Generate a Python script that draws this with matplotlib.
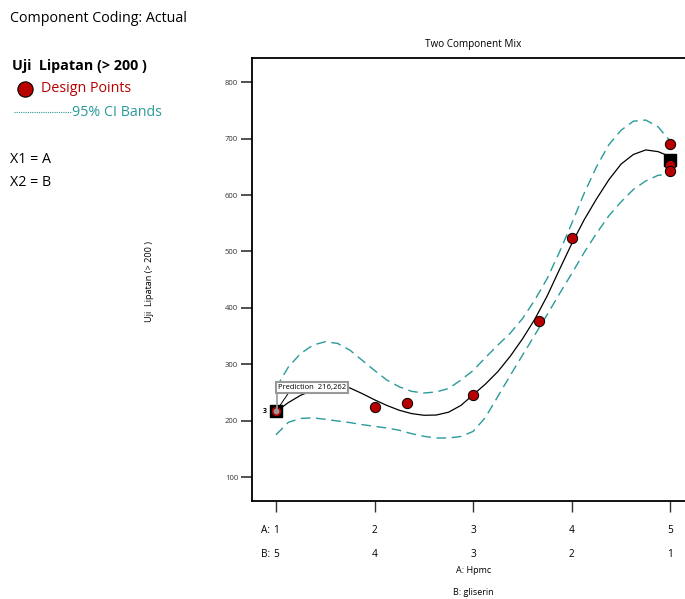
import numpy as np
import matplotlib.pyplot as plt
from matplotlib.transforms import blended_transform_factory

plt.rcParams['font.family'] = ['Open Sans', 'DejaVu Sans']

# design points (A: Hpmc)
pts_a = [1, 2, 2.33, 3, 3.67, 4, 5, 5, 5]
pts_y = [216.7, 223.8, 230.9, 245.6, 377, 524, 691, 653, 643]
# mean of replicates (black squares)
sq_a = [1, 5]
sq_y = [216.3, 662]

# fitted line and 95% CI, every 0.125 of A
grid_a = [1.0, 1.125, 1.25, 1.375, 1.5, 1.625, 1.75, 1.875, 2.0, 2.125, 2.25, 2.375, 2.5,
          2.625, 2.75, 2.875, 3.0, 3.125, 3.25, 3.375, 3.5, 3.625, 3.75, 3.875, 4.0,
          4.125, 4.25, 4.375, 4.5, 4.625, 4.75, 4.875, 5.0]
fit = [216, 232, 245, 254, 259, 261, 258, 248, 237, 227, 218.5, 212.6, 209.6,
       210, 215, 227, 246, 265, 287, 314, 345, 380, 421, 468, 514,
       556, 593, 627, 655, 672, 680, 677, 668]
upper = [258, 295, 319, 334, 340, 337, 325, 307, 289, 272, 260, 252, 249,
         251, 257, 272, 289, 312, 334, 355, 381, 414, 452, 499, 550,
         603, 650, 689, 715, 731, 733, 721, 695]
lower = [175, 197, 204, 205, 202.5, 199.5, 196.6, 193, 190, 187, 183, 177, 172.3,
         169.3, 169.3, 172, 181, 206, 243, 280, 316, 352, 388, 425, 461,
         498, 532, 563, 588, 610, 625, 635, 637]

a_ticks = [1, 2, 3, 4, 5]
b_ticks = [5, 4, 3, 2, 1]
y_ticks = [100, 200, 300, 400, 500, 600, 700, 800]

red = '#b80000'
teal = '#2a9a9a'

fig = plt.figure(figsize=(6.85, 5.99), dpi=100)
ax = fig.add_axes([252/685, 98/599, 448/685, 443/599])
ax.set_xlim(0.757, 5.30)
ax.set_ylim(57.6, 843)

ax.plot(grid_a, fit, color='black', lw=0.9, zorder=3)
ax.plot(grid_a, upper, color=teal, lw=1.0, dashes=(7, 4), zorder=2)
ax.plot(grid_a, lower, color=teal, lw=1.0, dashes=(7, 4), zorder=2)
ax.scatter(sq_a, sq_y, marker='s', s=75, color='black', zorder=4)
ax.scatter(pts_a, pts_y, s=55, color=red, edgecolor='black', linewidth=0.7, zorder=5)
ax.text(0.89, 216, '3', fontsize=5, fontweight='bold', ha='center', va='center')

# prediction flag
ax.plot([1, 1.13], [216.3, 250], color='black', lw=0.7, zorder=6)
ax.plot([1.01, 1.01], [216.3, 250], color='#999999', lw=1.2, zorder=6)
ax.scatter([1], [216.3], s=10, color='#999999', zorder=7)
ax.text(1.02, 259, 'Prediction  216,262', fontsize=5.5, ha='left', va='center', zorder=8,
        bbox=dict(boxstyle='square,pad=0.3', fc='white', ec='#999999', lw=1.5))

ax.spines['right'].set_visible(False)
for s in ['left', 'top', 'bottom']:
    ax.spines[s].set_linewidth(1.3)

ax.set_yticks(y_ticks)
ax.set_yticklabels([str(v) for v in y_ticks], fontsize=5.5, color='#333333')
ax.tick_params(axis='y', length=8, width=1.2, color='#333333', pad=2)
ax.set_xticks(a_ticks)
ax.set_xticklabels([str(v) for v in a_ticks], fontsize=7.3)
ax.tick_params(axis='x', length=8, width=1.0, color='#333333', pad=9)

tr = blended_transform_factory(ax.transData, ax.transAxes)
ax.text(0.94, -0.066, 'A:', transform=tr, fontsize=7.3, ha='right', va='center')
ax.text(0.94, -0.12, 'B:', transform=tr, fontsize=7.3, ha='right', va='center')
for a, b in zip(a_ticks, b_ticks):
    ax.text(a, -0.12, str(b), transform=tr, fontsize=7.3, ha='center', va='center')
ax.text(3, -0.157, 'A: Hpmc', transform=tr, fontsize=6.5, ha='center', va='center')
ax.text(3, -0.207, 'B: gliserin', transform=tr, fontsize=6.5, ha='center', va='center')
ax.text(3, 1.03, 'Two Component Mix', transform=tr, fontsize=7.2, ha='center', va='center')

fig.text(150/685, 1 - 281/599, 'Uji  Lipatan (> 200 )', rotation=90, fontsize=6.6,
         ha='center', va='center')

# left side info
fs = 10.3
fig.text(10/685, 1 - 18/599, 'Component Coding: Actual', fontsize=fs, va='center')
fig.text(12/685, 1 - 66/599, 'Uji  Lipatan (> 200 )', fontsize=fs, fontweight='bold', va='center')
fig.lines.append(plt.Line2D([25/685], [1 - 89/599], marker='o', ms=11, color=red,
                            mec='black', mew=0.8, transform=fig.transFigure))
fig.text(41/685, 1 - 89/599, 'Design Points', fontsize=fs, color=red, va='center')
fig.lines.append(plt.Line2D([14/685, 72/685], [1 - 112/599, 1 - 112/599], color=teal,
                            lw=0.8, ls=(0, (1, 1)), transform=fig.transFigure))
fig.text(72/685, 1 - 112/599, '95% CI Bands', fontsize=fs, color=teal, va='center')
fig.text(10/685, 1 - 159/599, 'X1 = A', fontsize=fs, va='center')
fig.text(10/685, 1 - 183/599, 'X2 = B', fontsize=fs, va='center')

fig.savefig('out.png', dpi=100)
